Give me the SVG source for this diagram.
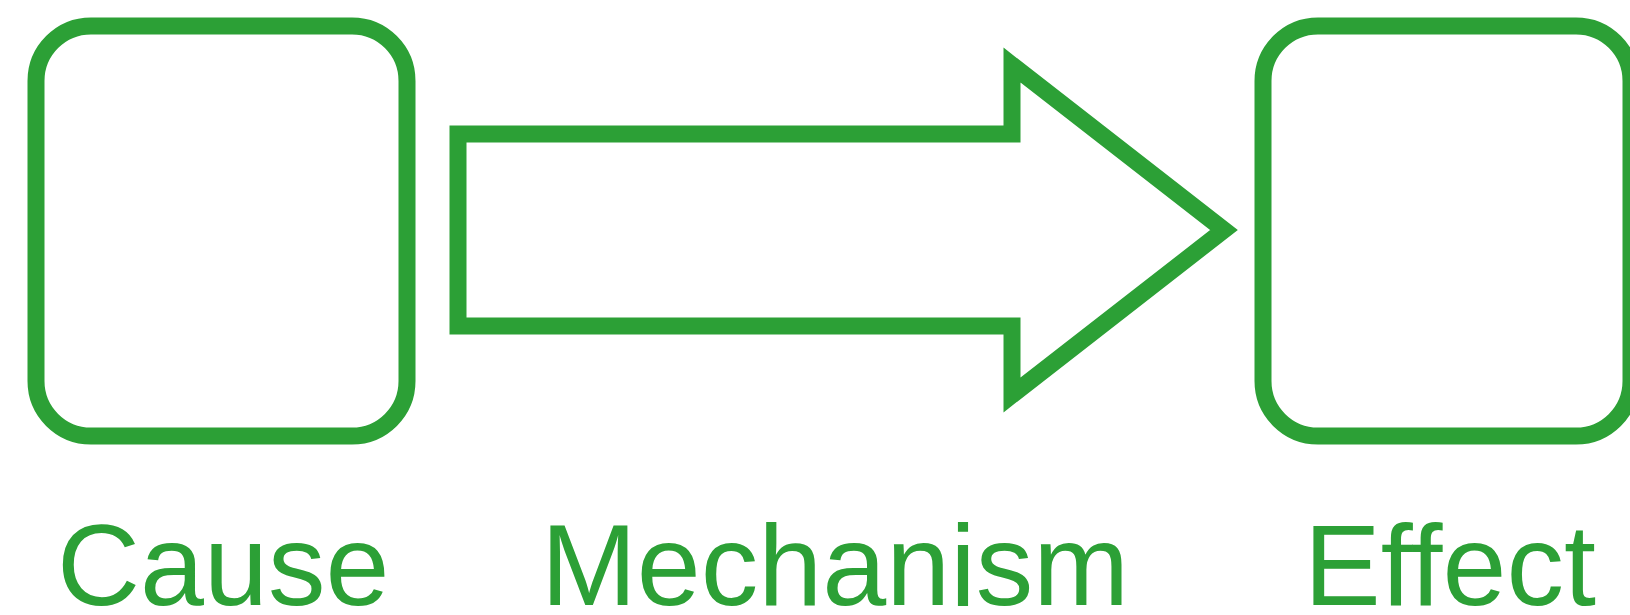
<svg xmlns="http://www.w3.org/2000/svg" width="1630" height="615" viewBox="0 0 1630 615">
<style>
.box{fill:#ffffff;stroke:#2ca036;stroke-width:17}
.arrow{fill:#ffffff;stroke:#2ca036;stroke-width:17;stroke-linejoin:miter;stroke-miterlimit:10}
.lbl{font-family:"Liberation Sans",Arial,sans-serif;font-size:115px;fill:#2ca036}
</style>
<rect width="1630" height="615" fill="#ffffff"/>
<g id="cause">
<rect class="box" x="36" y="26" width="371" height="410" rx="55" ry="55"/>
<text class="lbl" x="57" y="605">Cause</text>
</g>
<g id="effect">
<rect class="box" x="1263" y="26" width="368" height="410" rx="55" ry="55"/>
<text class="lbl" x="1304" y="605">Effect</text>
</g>
<g id="connectors">
<g id="mechanism">
<path class="arrow" d="M458,134 H1012 V65 L1224,230 L1012,395 V326 H458 Z"/>
<text class="lbl" x="541" y="605">Mechanism</text>
</g>
</g>
</svg>
